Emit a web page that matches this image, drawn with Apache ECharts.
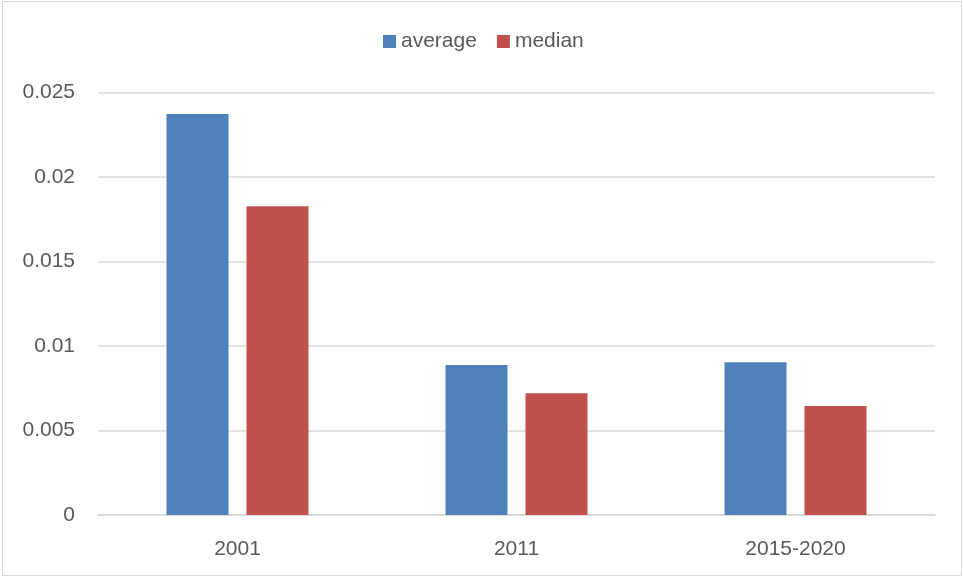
<!DOCTYPE html>
<html>
<head>
<meta charset="utf-8">
<script src="https://cdn.jsdelivr.net/npm/echarts@6/dist/echarts.min.js"></script>
<style>
  html, body { margin: 0; padding: 0; background: #fff; }
  #frame { position: absolute; left: 2px; top: 1px; width: 958px; height: 573px; border: 1px solid #d9d9d9; }
  #chart { width: 964px; height: 577px; position: absolute; left: 0; top: 0; }
</style>
</head>
<body>
<div id="frame"></div>
<div id="chart"></div>
<script>
// Periods on the x axis
const categories = ['2001', '2011', '2015-2020'];
// Series values
const averageValues = [0.02373, 0.00888, 0.00904];
const medianValues = [0.01827, 0.0072, 0.00645];
// Y axis range
const yMin = 0;
const yMax = 0.025;
const yStep = 0.005;

const textColor = '#595959';
const fontFamily = '"Liberation Sans", Arial, sans-serif';

const chart = echarts.init(document.getElementById('chart'), null, { renderer: 'canvas' });
chart.setOption({
  backgroundColor: 'transparent',
  animation: false,
  legend: {
    top: 26,
    left: 378,
    itemWidth: 13,
    itemHeight: 13,
    itemGap: 20,
    icon: 'rect',
    textStyle: { color: textColor, fontSize: 21, fontFamily: fontFamily },
    data: ['average', 'median']
  },
  grid: { left: 98, right: 29, top: 92.5, bottom: 62 },
  xAxis: {
    type: 'category',
    data: categories,
    axisLine: { lineStyle: { color: '#d9d9d9', width: 1.5 } },
    axisTick: { show: false },
    axisLabel: { color: textColor, fontSize: 21, fontFamily: fontFamily, margin: 24 }
  },
  yAxis: {
    type: 'value',
    min: yMin,
    max: yMax,
    interval: yStep,
    axisLine: { show: false },
    axisTick: { show: false },
    axisLabel: {
      color: textColor, fontSize: 21, fontFamily: fontFamily, margin: 23,
      formatter: v => String(parseFloat(v.toFixed(4)))
    },
    splitLine: { lineStyle: { color: '#d9d9d9', width: 1.5 } }
  },
  series: [
    {
      name: 'average', type: 'bar', data: averageValues,
      barWidth: 62, barGap: '29%',
      itemStyle: { color: '#4f81bd' }
    },
    {
      name: 'median', type: 'bar', data: medianValues,
      barWidth: 62, barGap: '29%',
      itemStyle: { color: '#c0504d' }
    }
  ]
});
</script>
</body>
</html>
